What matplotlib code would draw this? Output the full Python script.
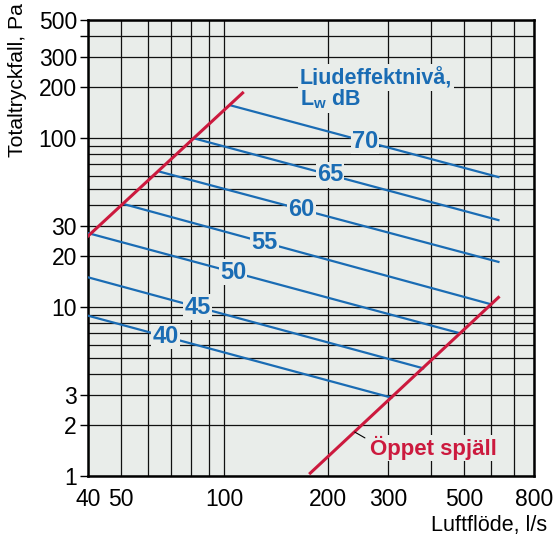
import matplotlib
matplotlib.use("Agg")
import matplotlib.pyplot as plt
import numpy as np

plt.rcParams['font.family'] = ['Liberation Sans', 'DejaVu Sans']
plt.rcParams['mathtext.fontset'] = 'custom'
plt.rcParams['mathtext.rm'] = 'Liberation Sans'
plt.rcParams['mathtext.bf'] = 'Liberation Sans:bold'

# sound power levels, dB: (start flow, start pressure, end flow, end pressure)
levels = [70, 65, 60, 55, 50, 45, 40]
q_start = [104.5, 81.6, 64.9, 51.3, 40, 40, 40]
p_start = [156, 99.6, 63.2, 40.5, 27.4, 15.0, 8.89]
q_end = [630, 630, 630, 598, 486, 380, 307]
p_end = [58.8, 32.7, 18.5, 10.4, 7.0, 4.34, 2.91]
label_q = [257, 203, 168, 131, 106, 83.5, 67.4]

# red limit lines
limit_q1 = [40, 113]
limit_p1 = [26.3, 185]
open_q = [178, 630]
open_p = [1.04, 11.4]

xticks = [40, 50, 100, 200, 300, 500, 800]
xminor = [60, 70, 80, 90, 400, 600, 700]
yticks = [1, 2, 3, 10, 20, 30, 100, 200, 300, 400, 500]
ylabels = ['1', '2', '3', '10', '20', '30', '100', '200', '300', '', '500']
yminor = [4, 5, 6, 7, 8, 9, 40, 50, 60, 70, 80, 90]

blue = '#1a6cb4'
red = '#cc1a3e'
bg = '#e9edea'

fig = plt.figure(figsize=(5.57, 5.39), dpi=100)
ax = fig.add_axes([88 / 557, 1 - 476 / 539, 446 / 557, 456 / 539])
ax.set_facecolor(bg)
ax.set_xscale('log')
ax.set_yscale('log')
ax.set_xlim(40, 800)
ax.set_ylim(1, 500)

ax.set_xticks(xticks)
ax.set_xticklabels([str(v) for v in xticks])
ax.set_xticks(xminor, minor=True)
ax.set_yticks(yticks)
ax.set_yticklabels(ylabels)
ax.set_yticks(yminor, minor=True)
ax.tick_params(axis='x', which='both', length=0, pad=9, labelsize=16.5)
ax.tick_params(axis='y', which='major', length=6, width=1, pad=2, labelsize=16.5)
ax.tick_params(axis='y', which='minor', length=0)
ax.grid(True, which='both', color='#111111', lw=0.9)
ax.set_axisbelow(True)
for s in ax.spines.values():
    s.set_linewidth(1.8)

# blue lines
for lv, q0, p0, q1, p1, lq in zip(levels, q_start, p_start, q_end, p_end, label_q):
    ax.plot([q0, q1], [p0, p1], color=blue, lw=1.6, zorder=3)
    t = np.log(lq / q0) / np.log(q1 / q0)
    lp = p0 * (p1 / p0) ** t
    ax.text(lq, lp, str(lv), color=blue, fontsize=17, fontweight='bold',
            ha='center', va='center', zorder=4,
            bbox=dict(facecolor=bg, edgecolor='none', pad=0.8))

ax.plot(limit_q1, limit_p1, color=red, lw=2.2, zorder=5)
ax.plot(open_q, open_p, color=red, lw=2.2, zorder=5)

ax.text(0.475, 0.86, 'Ljudeffektnivå,', transform=ax.transAxes, color=blue,
        fontsize=15.5, fontweight='bold', ha='left', va='baseline', zorder=4,
        bbox=dict(facecolor=bg, edgecolor='none', pad=1.5))
ax.text(0.475, 0.8136, r'L$_{\mathbf{w}}$ dB', transform=ax.transAxes, color=blue,
        fontsize=15.5, fontweight='bold', ha='left', va='baseline', zorder=4,
        bbox=dict(facecolor=bg, edgecolor='none', pad=1.5))

ax.annotate('Öppet spjäll', xy=(240, 1.82), xytext=(0.632, 0.046),
            textcoords='axes fraction', color=red, fontsize=16,
            fontweight='bold', ha='left', va='baseline', zorder=6,
            bbox=dict(facecolor=bg, edgecolor='none', pad=1.0),
            arrowprops=dict(arrowstyle='-', color='black', lw=0.8,
                            shrinkA=3, shrinkB=0, relpos=(0, 0.8)))

fig.text(547 / 557, 1 - 525 / 539, 'Luftflöde, l/s', fontsize=15.5,
         ha='right', va='center')
fig.text(18 / 557, 1 - 3 / 539, 'Totaltryckfall, Pa', fontsize=15.2,
         rotation=90, ha='center', va='top')

fig.savefig('out.png', dpi=100)
